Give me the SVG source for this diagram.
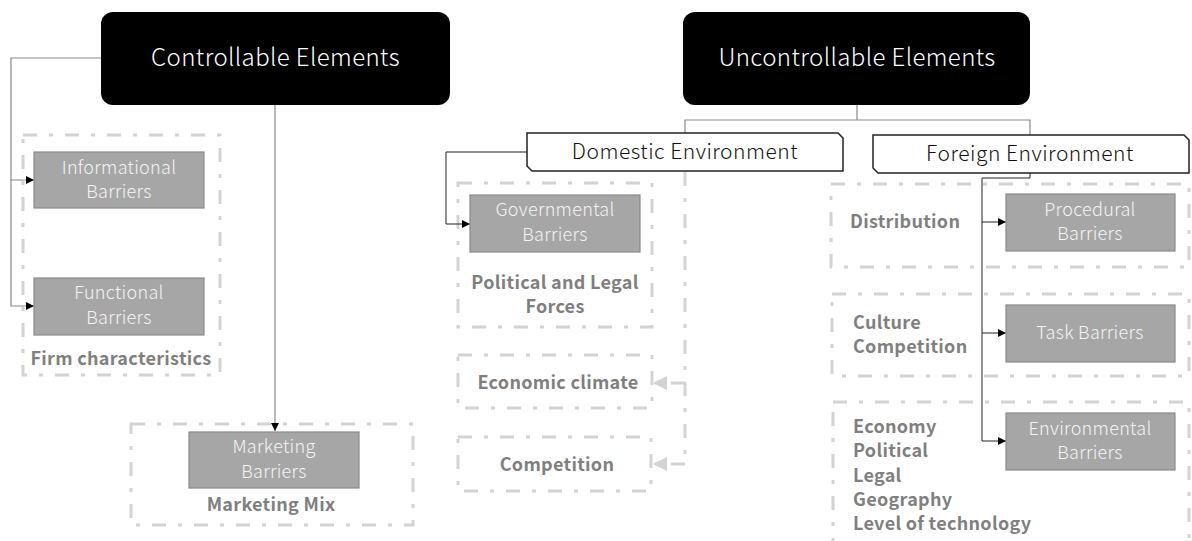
<svg xmlns="http://www.w3.org/2000/svg" width="1192" height="541" viewBox="0 0 1192 541">
  <style>
    .head { fill: #000; }
    .headtxt { fill: #fff; font-family: "Noto Sans CJK JP", "Noto Sans", sans-serif; font-weight: 300; font-size: 24px; letter-spacing: 0.4px; text-anchor: middle; }
    .env { fill: #fff; stroke: #222; stroke-width: 1.5; }
    .envtxt { fill: #111; font-family: "Noto Sans CJK JP", "Noto Sans", sans-serif; font-weight: 300; font-size: 21px; letter-spacing: 0.5px; text-anchor: middle; }
    .bar { fill: #a6a6a6; stroke: #8a8a8a; stroke-width: 1.2; }
    .bartxt { fill: #f4f4f4; font-family: "Noto Sans CJK JP", "Noto Sans", sans-serif; font-weight: 300; font-size: 18px; letter-spacing: 0.3px; text-anchor: middle; }
    .grp { fill: none; stroke: #d3d3d3; stroke-width: 3; stroke-dasharray: 14 12 4 12; }
    .lbl { fill: #7f7f7f; font-family: "Noto Sans CJK JP", "Noto Sans", sans-serif; font-weight: 700; font-size: 18px; letter-spacing: 0.3px; }
    .mid { text-anchor: middle; }
    .wire { fill: none; stroke: #222; stroke-width: 1; }
    .wireg { fill: none; stroke: #8a8a8a; stroke-width: 1.2; }
    .soft { fill: none; stroke: #d3d3d3; stroke-width: 3; stroke-dasharray: 14 12 4 12; }
  </style>
  <defs>
    <marker id="arr" viewBox="0 0 10 10" refX="10" refY="5" markerWidth="8" markerHeight="8" markerUnits="userSpaceOnUse" orient="auto">
      <path d="M0,0 L10,5 L0,10 Z" fill="#000"/>
    </marker>
    <marker id="arrsoft" viewBox="0 0 10 10" refX="10" refY="5" markerWidth="14" markerHeight="14" markerUnits="userSpaceOnUse" orient="auto">
      <path d="M0,0 L10,5 L0,10 Z" fill="#d3d3d3"/>
    </marker>
  </defs>

  <!-- dashed groupings -->
  <g id="group-firm">
    <rect class="grp" x="23" y="135" width="197" height="240"/>
    <text class="lbl mid" x="121" y="365">Firm characteristics</text>
  </g>
  <g id="group-mix">
    <rect class="grp" x="131" y="424" width="282" height="101"/>
    <text class="lbl mid" x="271" y="511">Marketing Mix</text>
  </g>
  <g id="group-political">
    <rect class="grp" x="458" y="183" width="194" height="144"/>
    <text class="lbl mid" x="555" y="289">Political and Legal</text>
    <text class="lbl mid" x="555" y="313">Forces</text>
  </g>
  <g id="group-economic">
    <rect class="grp" x="458" y="355" width="194" height="53"/>
    <text class="lbl mid" x="558" y="389">Economic climate</text>
  </g>
  <g id="group-competition">
    <rect class="grp" x="458" y="437" width="193" height="54"/>
    <text class="lbl mid" x="557" y="471">Competition</text>
  </g>
  <g id="group-distribution">
    <rect class="grp" x="831" y="184" width="358" height="83"/>
    <text class="lbl" x="850" y="228">Distribution</text>
  </g>
  <g id="group-culture">
    <rect class="grp" x="832" y="294" width="357" height="82"/>
    <text class="lbl" x="853" y="329">Culture</text>
    <text class="lbl" x="853" y="353">Competition</text>
  </g>
  <g id="group-macro">
    <rect class="grp" x="833" y="402" width="356" height="160"/>
    <text class="lbl" x="853" y="433">Economy</text>
    <text class="lbl" x="853" y="457">Political</text>
    <text class="lbl" x="853" y="482">Legal</text>
    <text class="lbl" x="853" y="506">Geography</text>
    <text class="lbl" x="853" y="530">Level of technology</text>
  </g>

  <!-- connectors -->
  <g id="connectors">
    <path class="wireg" d="M101,58 H11 V180 H34" marker-end="url(#arr)"/>
    <path class="wireg" d="M11,180 V306 H34" marker-end="url(#arr)"/>
    <path class="wireg" d="M275,105 V431" marker-end="url(#arr)"/>
    <path class="wireg" d="M857,105 V120 H685 V133 M857,120 H1030 V135"/>
    <path class="wire" d="M527,152 H446 V224 H470" marker-end="url(#arr)"/>
    <path class="soft" d="M685,172 V465"/>
    <path class="soft" d="M685,383 H653" marker-end="url(#arrsoft)"/>
    <path class="soft" d="M685,464 H653" marker-end="url(#arrsoft)"/>
    <path class="wire" d="M1030,173 V178 H982 V441 H1006" marker-end="url(#arr)"/>
    <path class="wire" d="M982,222 H1006" marker-end="url(#arr)"/>
    <path class="wire" d="M982,333 H1006" marker-end="url(#arr)"/>
  </g>

  <!-- top-level nodes -->
  <g id="controllable">
    <rect class="head" x="101" y="12" width="349" height="93" rx="12"/>
    <text class="headtxt" x="275.5" y="66">Controllable Elements</text>
  </g>
  <g id="uncontrollable">
    <rect class="head" x="683" y="12" width="347" height="93" rx="12"/>
    <text class="headtxt" x="857" y="66">Uncontrollable Elements</text>
  </g>
  <g id="domestic">
    <path class="env" d="M527,133 H838 L843,138 V171 H532 L527,166 Z"/>
    <text class="envtxt" x="685" y="159">Domestic Environment</text>
  </g>
  <g id="foreign">
    <path class="env" d="M873,135 H1184 L1189,140 V173 H878 L873,168 Z"/>
    <text class="envtxt" x="1030" y="161">Foreign Environment</text>
  </g>

  <!-- barrier nodes -->
  <g id="informational">
    <rect class="bar" x="34" y="152" width="170" height="56"/>
    <text class="bartxt" x="119" y="174">Informational</text>
    <text class="bartxt" x="119" y="198">Barriers</text>
  </g>
  <g id="functional">
    <rect class="bar" x="34" y="278" width="170" height="57"/>
    <text class="bartxt" x="119" y="299">Functional</text>
    <text class="bartxt" x="119" y="324">Barriers</text>
  </g>
  <g id="marketing">
    <rect class="bar" x="189" y="432" width="170" height="56"/>
    <text class="bartxt" x="274" y="453">Marketing</text>
    <text class="bartxt" x="274" y="478">Barriers</text>
  </g>
  <g id="governmental">
    <rect class="bar" x="470" y="195" width="170" height="57"/>
    <text class="bartxt" x="555" y="216">Governmental</text>
    <text class="bartxt" x="555" y="241">Barriers</text>
  </g>
  <g id="procedural">
    <rect class="bar" x="1006" y="194" width="169" height="57"/>
    <text class="bartxt" x="1090" y="216">Procedural</text>
    <text class="bartxt" x="1090" y="240">Barriers</text>
  </g>
  <g id="task">
    <rect class="bar" x="1006" y="305" width="169" height="57"/>
    <text class="bartxt" x="1090" y="339">Task Barriers</text>
  </g>
  <g id="environmental">
    <rect class="bar" x="1006" y="413" width="169" height="57"/>
    <text class="bartxt" x="1090" y="435">Environmental</text>
    <text class="bartxt" x="1090" y="459">Barriers</text>
  </g>
</svg>
